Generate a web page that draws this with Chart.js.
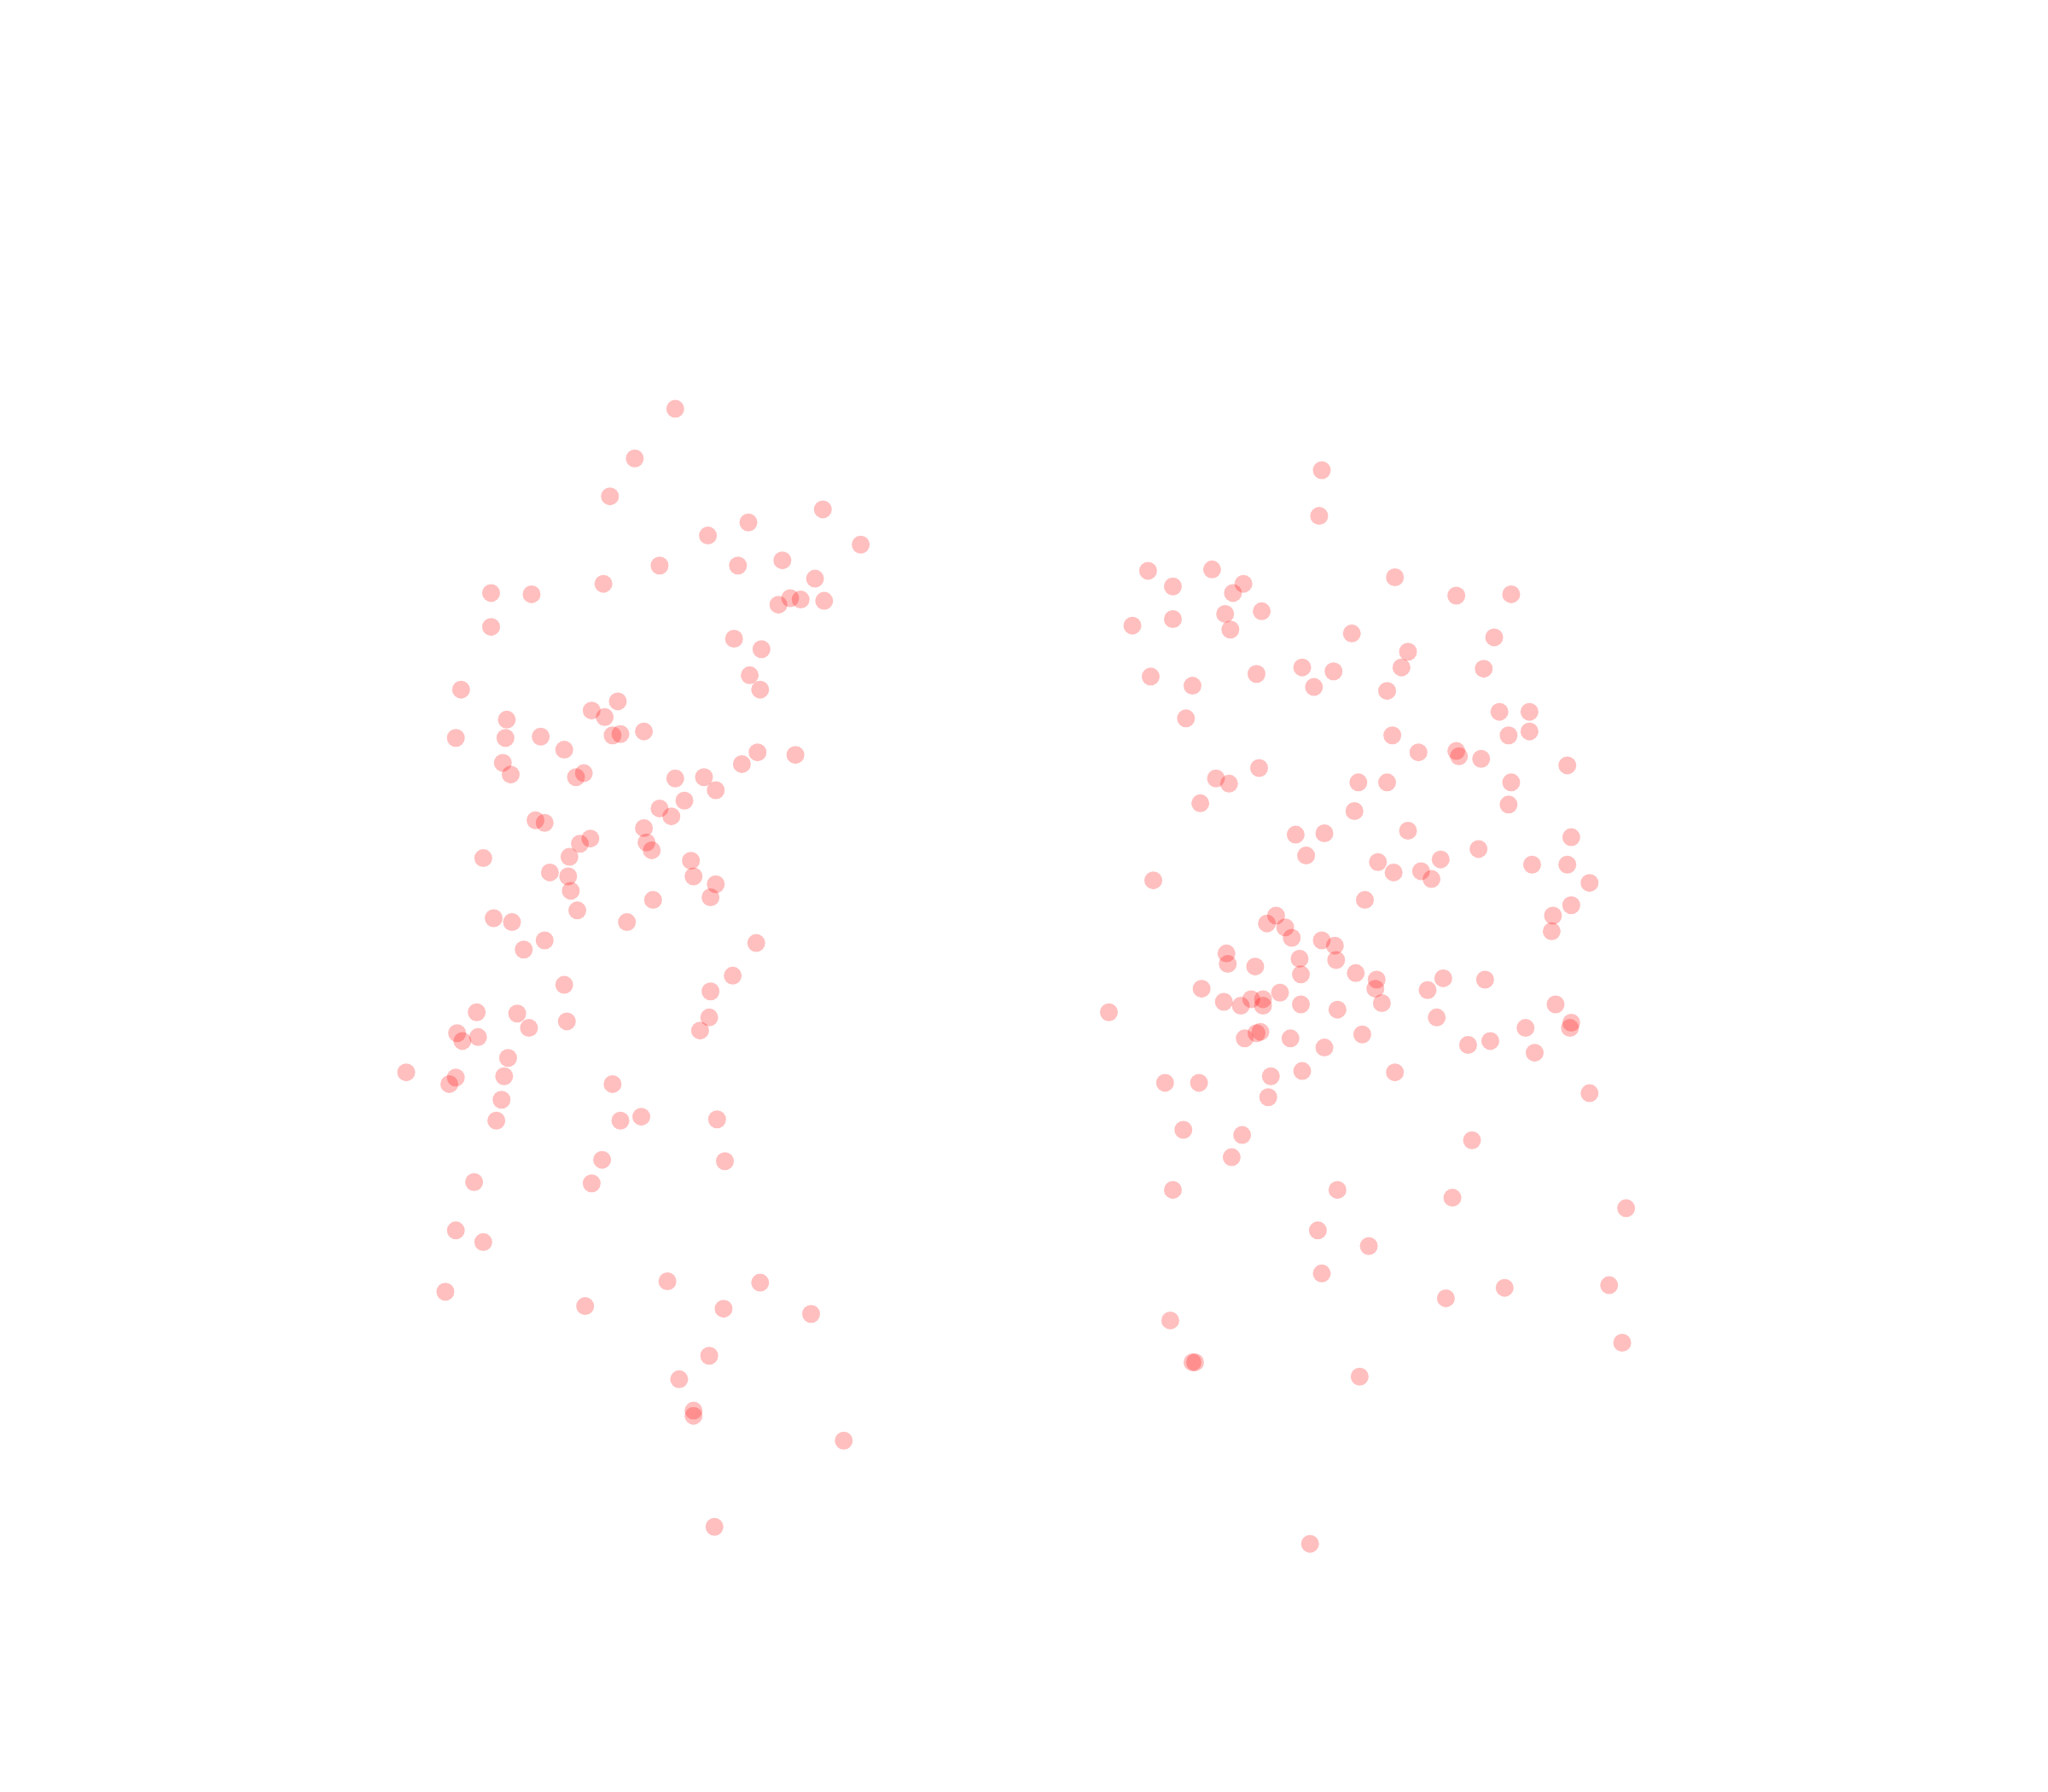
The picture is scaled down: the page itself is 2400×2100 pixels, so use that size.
<!DOCTYPE html>
<html>
<head>
<meta charset="utf-8">
<script src="https://cdn.jsdelivr.net/npm/chart.js@4/dist/chart.umd.min.js"></script>
<style>
html,body{margin:0;padding:0;background:#fff;}
#wrap{width:2400px;height:2100px;position:relative;}
</style>
</head>
<body>
<div id="wrap"><canvas id="c"></canvas></div>
<script>
// Group A (left cluster) values
const groupAX = [517,486,467,630,573,542,659,505,565,599,624,462,376,407,605,613,596,631,376,562,583,574,353,582,473,453,463,388,349,387,414,469,475,493,432,580,609,385,568,391,441,447,517,539,548,524,505,514,410,417,493,452,444,495,499,370,436,529,421,435,531,548,437,544,500,442,378,392,480,417,579,401,561,432,544,365,396,543,434,405,536,350,366,354,389,311,349,386,344,469,384,491,475,549,380,461,555,363,453,349,370,511,582,341,448,554,621,543,520,531,531,646,547];
const groupAY = [313,351,380,390,400,410,417,433,433,429,443,447,454,455,458,459,463,460,480,489,497,517,528,528,537,544,549,551,565,565,564,563,562,560,574,576,578,584,585,593,595,592,596,595,605,613,619,625,628,630,634,642,646,645,651,657,656,659,668,671,671,677,682,687,689,697,703,706,706,720,722,727,747,754,759,775,776,779,782,787,789,791,794,797,810,821,825,824,830,830,842,855,858,857,858,888,889,905,906,942,951,981,982,989,1000,1002,1006,1038,1056,1080,1084,1103,1169];
// Group B (right cluster) values
const groupBX = [1012,1010,879,928,898,952,1068,944,1115,1157,938,966,898,867,942,1035,1144,1078,1073,997,1021,1136,881,962,913,1006,1062,908,1148,1171,1066,1155,1171,1086,1115,1117,1134,964,1200,931,941,1040,1062,1157,919,1155,1037,992,1014,1078,1203,1000,1132,1055,1103,1067,1088,1173,1200,1096,883,1217,1045,1203,1189,977,970,984,989,1188,1012,1022,939,940,961,995,1023,996,1038,1054,1137,1105,920,1053,1093,937,958,967,950,967,980,996,1058,1024,1191,849,1100,1203,1202,1168,962,965,953,988,1043,1141,1124,1014,1175,997,1068,973,892,918,1217,971,906,951,1127,943,898,1024,1112,1245,1009,1048,1012,1232,1152,1107,896,1242,915,913,1041,1003];
const groupBY = [360,395,437,436,449,447,442,454,456,455,470,468,474,479,482,485,488,499,511,511,514,512,518,516,525,526,529,550,545,545,563,563,560,576,575,579,581,588,586,596,600,599,599,599,615,616,621,639,638,636,641,655,650,660,658,668,667,662,662,673,674,676,689,693,701,701,707,710,718,713,720,724,730,738,740,734,735,746,745,750,750,749,757,757,758,767,765,765,770,770,760,769,768,773,769,775,779,783,787,787,791,790,795,795,792,797,800,802,806,820,821,824,829,829,837,840,865,869,873,886,911,911,917,925,942,954,975,984,986,994,1011,1028,1043,1043,1054,1182];

const toPoints = (xs, ys) => xs.map((x, i) => ({x: x, y: ys[i]}));

new Chart(document.getElementById('c'), {
  type: 'scatter',
  data: {
    datasets: [
      {label: 'A', data: toPoints(groupAX, groupAY), backgroundColor: 'rgba(255,0,0,0.25)', borderWidth: 0, pointRadius: 10.5, pointHoverRadius: 10.5},
      {label: 'B', data: toPoints(groupBX, groupBY), backgroundColor: 'rgba(255,0,0,0.25)', borderWidth: 0, pointRadius: 10.5, pointHoverRadius: 10.5}
    ]
  },
  options: {
    responsive: true,
    maintainAspectRatio: false,
    animation: false,
    layout: {padding: 0, autoPadding: false},
    plugins: {legend: {display: false}, tooltip: {enabled: false}, title: {display: false}},
    scales: {
      x: {type: 'linear', min: 0, max: 1568, display: false},
      y: {type: 'linear', min: 0, max: 1372, reverse: true, display: false}
    }
  }
});
</script>
</body>
</html>
